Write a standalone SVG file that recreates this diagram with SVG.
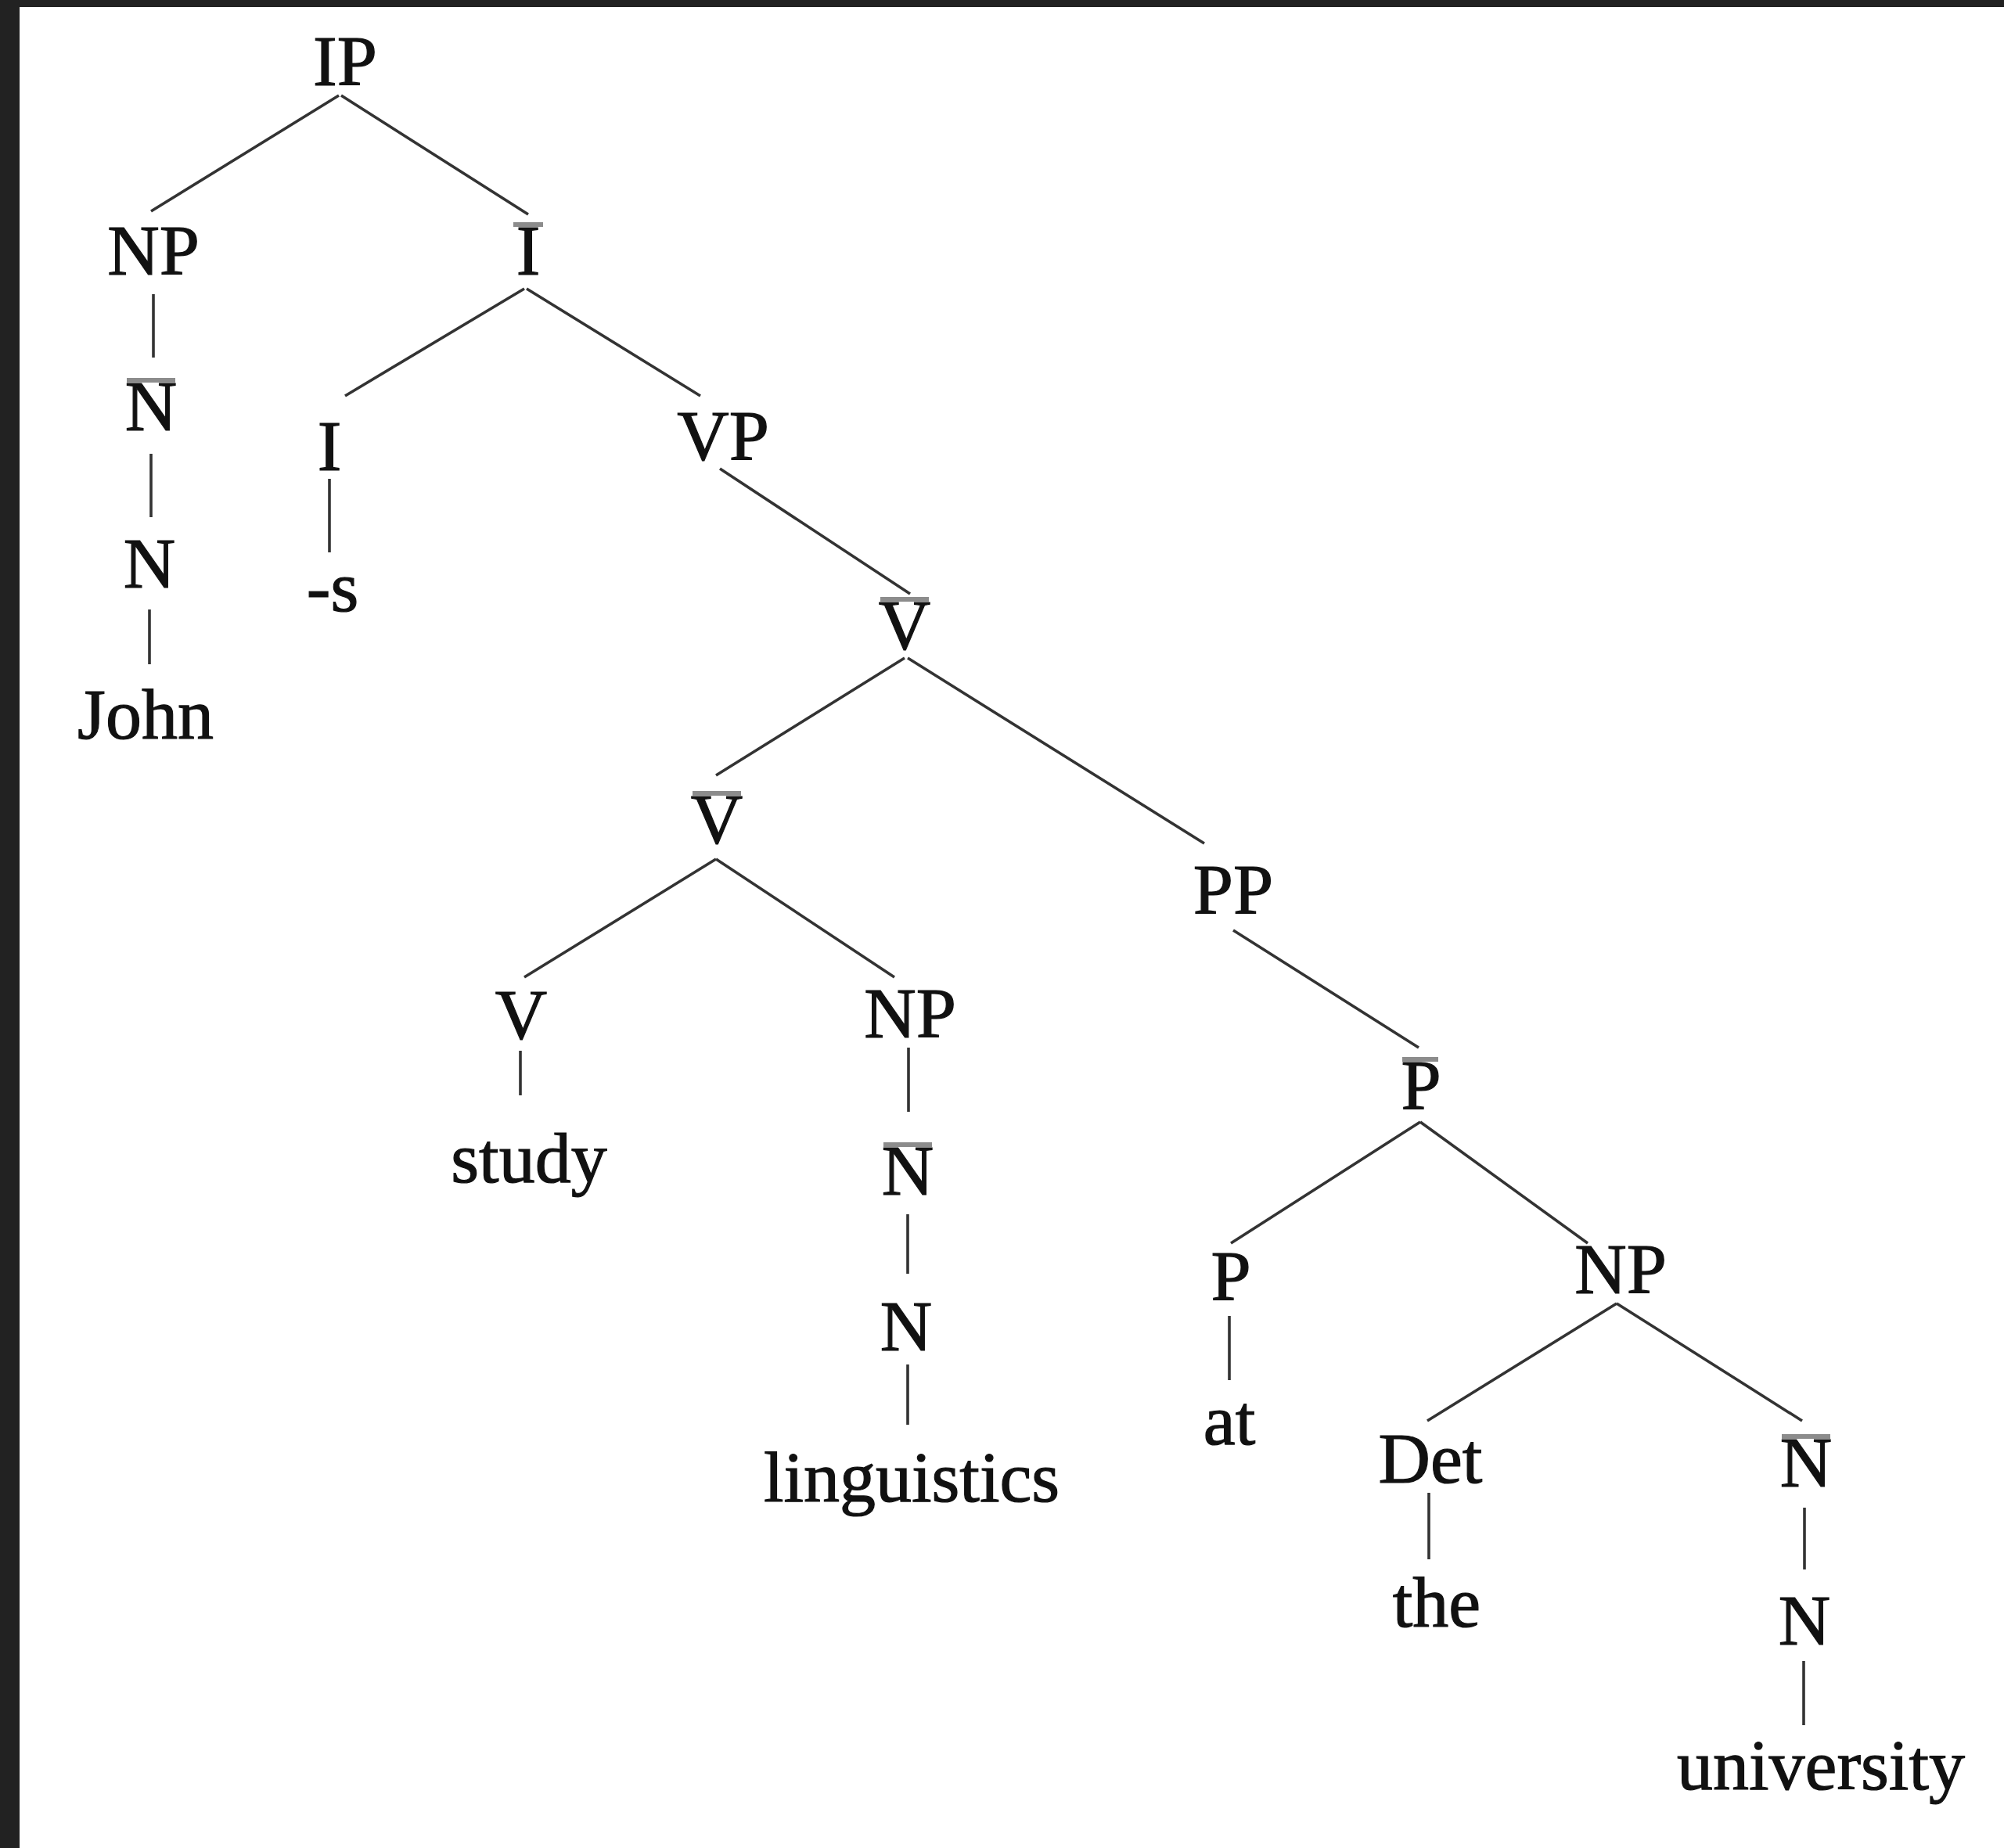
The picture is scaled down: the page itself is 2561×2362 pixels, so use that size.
<svg xmlns="http://www.w3.org/2000/svg" width="2561" height="2362" viewBox="0 0 2561 2362">
<style>
text{font-family:"Liberation Serif","Times New Roman",serif;font-size:92px;fill:#111;stroke:#111;stroke-width:1.2;text-anchor:middle}
.e{stroke:#333;stroke-width:3.6;fill:none}
.bar{fill:#8c8c8c}
</style>
<rect x="0" y="0" width="2561" height="2362" fill="#222"/>
<rect x="25" y="9" width="2536" height="2353" fill="#fff"/>
<g id="connectors">
<line class="e" x1="433" y1="122" x2="193" y2="270"/>
<line class="e" x1="436" y1="122" x2="675" y2="274"/>
<line class="e" x1="670" y1="369" x2="441" y2="506"/>
<line class="e" x1="673" y1="369" x2="895" y2="506"/>
<line class="e" x1="196" y1="376" x2="196" y2="457"/>
<line class="e" x1="193" y1="580" x2="193" y2="661"/>
<line class="e" x1="191" y1="779" x2="191" y2="849"/>
<line class="e" x1="421" y1="612" x2="421" y2="706"/>
<line class="e" x1="920" y1="599" x2="1163" y2="759"/>
<line class="e" x1="1156" y1="841" x2="915" y2="991"/>
<line class="e" x1="1160" y1="841" x2="1539" y2="1078"/>
<line class="e" x1="915" y1="1098" x2="670" y2="1249"/>
<line class="e" x1="915" y1="1098" x2="1143" y2="1249"/>
<line class="e" x1="665" y1="1343" x2="665" y2="1400"/>
<line class="e" x1="1161" y1="1339" x2="1161" y2="1421"/>
<line class="e" x1="1160" y1="1552" x2="1160" y2="1628"/>
<line class="e" x1="1160" y1="1744" x2="1160" y2="1821"/>
<line class="e" x1="1576" y1="1189" x2="1813" y2="1339"/>
<line class="e" x1="1815" y1="1434" x2="1573" y2="1589"/>
<line class="e" x1="1815" y1="1434" x2="2029" y2="1589"/>
<line class="e" x1="1571" y1="1682" x2="1571" y2="1764"/>
<line class="e" x1="2066" y1="1666" x2="1824" y2="1816"/>
<line class="e" x1="2066" y1="1666" x2="2303" y2="1816"/>
<line class="e" x1="1826" y1="1908" x2="1826" y2="1993"/>
<line class="e" x1="2306" y1="1927" x2="2306" y2="2006"/>
<line class="e" x1="2305" y1="2123" x2="2305" y2="2205"/>
</g>
<g id="n-ip"><text x="441" y="109">IP</text></g>
<g id="n-np1"><text x="196" y="351">NP</text></g>
<g id="n-ibar"><rect class="bar" x="656" y="284" width="38" height="6"/><text x="675" y="351">I</text></g>
<g id="n-nbar1"><rect class="bar" x="162" y="483" width="62" height="6"/><text x="193" y="550">N</text></g>
<g id="n-n1"><text x="191" y="751">N</text></g>
<g id="n-john"><text x="186" y="944">John</text></g>
<g id="n-i"><text x="421" y="601">I</text></g>
<g id="n-s"><text x="425" y="781">-s</text></g>
<g id="n-vp"><text x="924" y="588">VP</text></g>
<g id="n-vbar1"><rect class="bar" x="1125" y="763" width="62" height="6"/><text x="1156" y="830">V</text></g>
<g id="n-vbar2"><rect class="bar" x="885" y="1011" width="62" height="6"/><text x="916" y="1078">V</text></g>
<g id="n-v"><text x="666" y="1328">V</text></g>
<g id="n-study"><text x="676" y="1511">study</text></g>
<g id="n-np2"><text x="1163" y="1326">NP</text></g>
<g id="n-nbar2"><rect class="bar" x="1129" y="1460" width="62" height="6"/><text x="1160" y="1527">N</text></g>
<g id="n-n2"><text x="1158" y="1726">N</text></g>
<g id="n-ling"><text x="1165" y="1919">linguistics</text></g>
<g id="n-pp"><text x="1576" y="1168">PP</text></g>
<g id="n-pbar"><rect class="bar" x="1792" y="1351" width="46" height="6"/><text x="1816" y="1418">P</text></g>
<g id="n-p"><text x="1573" y="1662">P</text></g>
<g id="n-at"><text x="1571" y="1846">at</text></g>
<g id="n-np3"><text x="2071" y="1653">NP</text></g>
<g id="n-det"><text x="1828" y="1895">Det</text></g>
<g id="n-the"><text x="1836" y="2079">the</text></g>
<g id="n-nbar3"><rect class="bar" x="2277" y="1833" width="62" height="6"/><text x="2308" y="1900">N</text></g>
<g id="n-n3"><text x="2306" y="2102">N</text></g>
<g id="n-univ"><text x="2327" y="2287">university</text></g>
</svg>
